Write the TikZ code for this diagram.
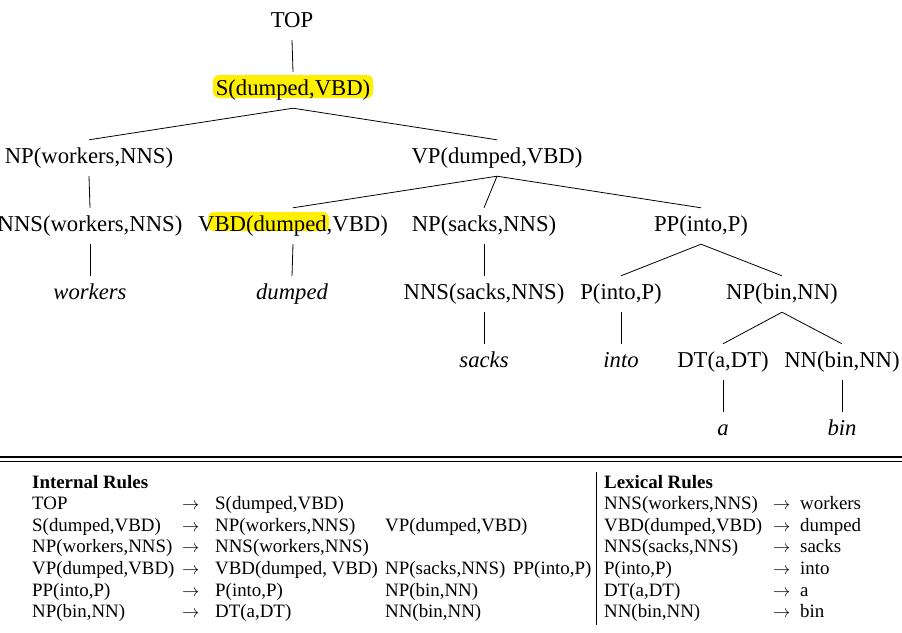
\documentclass[tikz,border=0pt]{standalone}
\usepackage{fontspec}
\setmainfont{Liberation Serif}
\usetikzlibrary{calc}
\definecolor{hlyellow}{RGB}{255,240,0}
\begin{document}
\begin{tikzpicture}[x=1pt,y=-1pt,
 tn/.style={anchor=base,font=\fontsize{22.7}{27}\selectfont,text height=15pt,text depth=5pt,inner xsep=0pt,inner ysep=8pt},
 lf/.style={tn,font=\fontsize{22.7}{27}\selectfont\itshape},
 edge/.style={line width=0.8pt},
 tb/.style={anchor=base west,font=\fontsize{18.9}{22}\selectfont,inner sep=0pt},
 th/.style={tb,font=\fontsize{18.9}{22}\selectfont\bfseries},
 hl/.style={fill=hlyellow,rounded corners=6pt},
 rule/.style={line width=1.2pt}]
\useasboundingbox (0,0) rectangle (902,632);
% highlights
\fill[hl] (213,75) rectangle (373,98);
\fill[hl] (208,212) rectangle (329,231);
% tree
\node[tn] (TOP) at (292,27) {TOP};
\node[tn] (S) at (293,95) {S(dumped,VBD)};
\node[tn] (NPw) at (89,163) {NP(workers,NNS)};
\node[tn] (VP) at (497,163) {VP(dumped,VBD)};
\node[tn] (NNSw) at (90,231) {NNS(workers,NNS)};
\node[tn] (VBD) at (293,231) {VBD(dumped,VBD)};
\node[tn] (NPs) at (484,231) {NP(sacks,NNS)};
\node[tn] (PP) at (701,231) {PP(into,P)};
\node[lf] (workers) at (90,299) {workers};
\node[lf] (dumped) at (292,299) {dumped};
\node[tn] (NNSs) at (484,299) {NNS(sacks,NNS)};
\node[tn] (P) at (621,299) {P(into,P)};
\node[tn] (NPb) at (782,299) {NP(bin,NN)};
\node[lf] (sacks) at (484,367) {sacks};
\node[lf] (into) at (621,367) {into};
\node[tn] (DT) at (723,367) {DT(a,DT)};
\node[tn] (NN) at (842,367) {NN(bin,NN)};
\node[lf] (a) at (723,435) {a};
\node[lf] (bin) at (842,435) {bin};
\draw[edge] (TOP.south) -- (S.north);
\draw[edge] (S.south) -- (NPw.north);
\draw[edge] (S.south) -- (VP.north);
\draw[edge] (NPw.south) -- (NNSw.north);
\draw[edge] (VP.south) -- (VBD.north);
\draw[edge] (VP.south) -- (NPs.north);
\draw[edge] (VP.south) -- (PP.north);
\draw[edge] (NNSw.south) -- (workers.north);
\draw[edge] (VBD.south) -- (dumped.north);
\draw[edge] (NPs.south) -- (NNSs.north);
\draw[edge] (PP.south) -- (P.north);
\draw[edge] (PP.south) -- (NPb.north);
\draw[edge] (NNSs.south) -- (sacks.north);
\draw[edge] (P.south) -- (into.north);
\draw[edge] (NPb.south) -- (DT.north);
\draw[edge] (NPb.south) -- (NN.north);
\draw[edge] (DT.south) -- (a.north);
\draw[edge] (NN.south) -- (bin.north);
% rules
\coordinate (r1a) at (0,457); \coordinate (r1b) at (902,457);
\coordinate (r2a) at (0,461.5); \coordinate (r2b) at (902,461.5);
\draw[rule] (r1a) -- (r1b);
\draw[rule] (r2a) -- (r2b);
\coordinate (va) at (596,472); \coordinate (vb) at (596,625);
\draw[line width=1pt] (va) -- (vb);
% internal rules
\node[th] (ih) at (32,488) {Internal Rules};
\node[tb] (i1a) at (32,509) {TOP};
\node[tb] (i1r) at (182,509) {$\rightarrow$};
\node[tb] (i1b) at (215,509) {S(dumped,VBD)};
\node[tb] (i2a) at (32,531) {S(dumped,VBD)};
\node[tb] (i2r) at (182,531) {$\rightarrow$};
\node[tb] (i2b) at (215,531) {NP(workers,NNS)};
\node[tb] (i2c) at (385,531) {VP(dumped,VBD)};
\node[tb] (i3a) at (32,552) {NP(workers,NNS)};
\node[tb] (i3r) at (182,552) {$\rightarrow$};
\node[tb] (i3b) at (215,552) {NNS(workers,NNS)};
\node[tb] (i4a) at (32,574) {VP(dumped,VBD)};
\node[tb] (i4r) at (182,574) {$\rightarrow$};
\node[tb] (i4b) at (215,574) {VBD(dumped, VBD)};
\node[tb] (i4c) at (385,574) {NP(sacks,NNS)};
\node[tb] (i4d) at (513,574) {PP(into,P)};
\node[tb] (i5a) at (32,596) {PP(into,P)};
\node[tb] (i5r) at (182,596) {$\rightarrow$};
\node[tb] (i5b) at (215,596) {P(into,P)};
\node[tb] (i5c) at (385,596) {NP(bin,NN)};
\node[tb] (i6a) at (32,617) {NP(bin,NN)};
\node[tb] (i6r) at (182,617) {$\rightarrow$};
\node[tb] (i6b) at (215,617) {DT(a,DT)};
\node[tb] (i6c) at (385,617) {NN(bin,NN)};
% lexical rules
\node[th] (lh) at (604,488) {Lexical Rules};
\node[tb] (l1a) at (604,509) {NNS(workers,NNS)};
\node[tb] (l1r) at (773,509) {$\rightarrow$};
\node[tb] (l1b) at (800,509) {workers};
\node[tb] (l2a) at (604,531) {VBD(dumped,VBD)};
\node[tb] (l2r) at (773,531) {$\rightarrow$};
\node[tb] (l2b) at (800,531) {dumped};
\node[tb] (l3a) at (604,552) {NNS(sacks,NNS)};
\node[tb] (l3r) at (773,552) {$\rightarrow$};
\node[tb] (l3b) at (800,552) {sacks};
\node[tb] (l4a) at (604,574) {P(into,P)};
\node[tb] (l4r) at (773,574) {$\rightarrow$};
\node[tb] (l4b) at (800,574) {into};
\node[tb] (l5a) at (604,596) {DT(a,DT)};
\node[tb] (l5r) at (773,596) {$\rightarrow$};
\node[tb] (l5b) at (800,596) {a};
\node[tb] (l6a) at (604,617) {NN(bin,NN)};
\node[tb] (l6r) at (773,617) {$\rightarrow$};
\node[tb] (l6b) at (800,617) {bin};
\end{tikzpicture}
\end{document}
